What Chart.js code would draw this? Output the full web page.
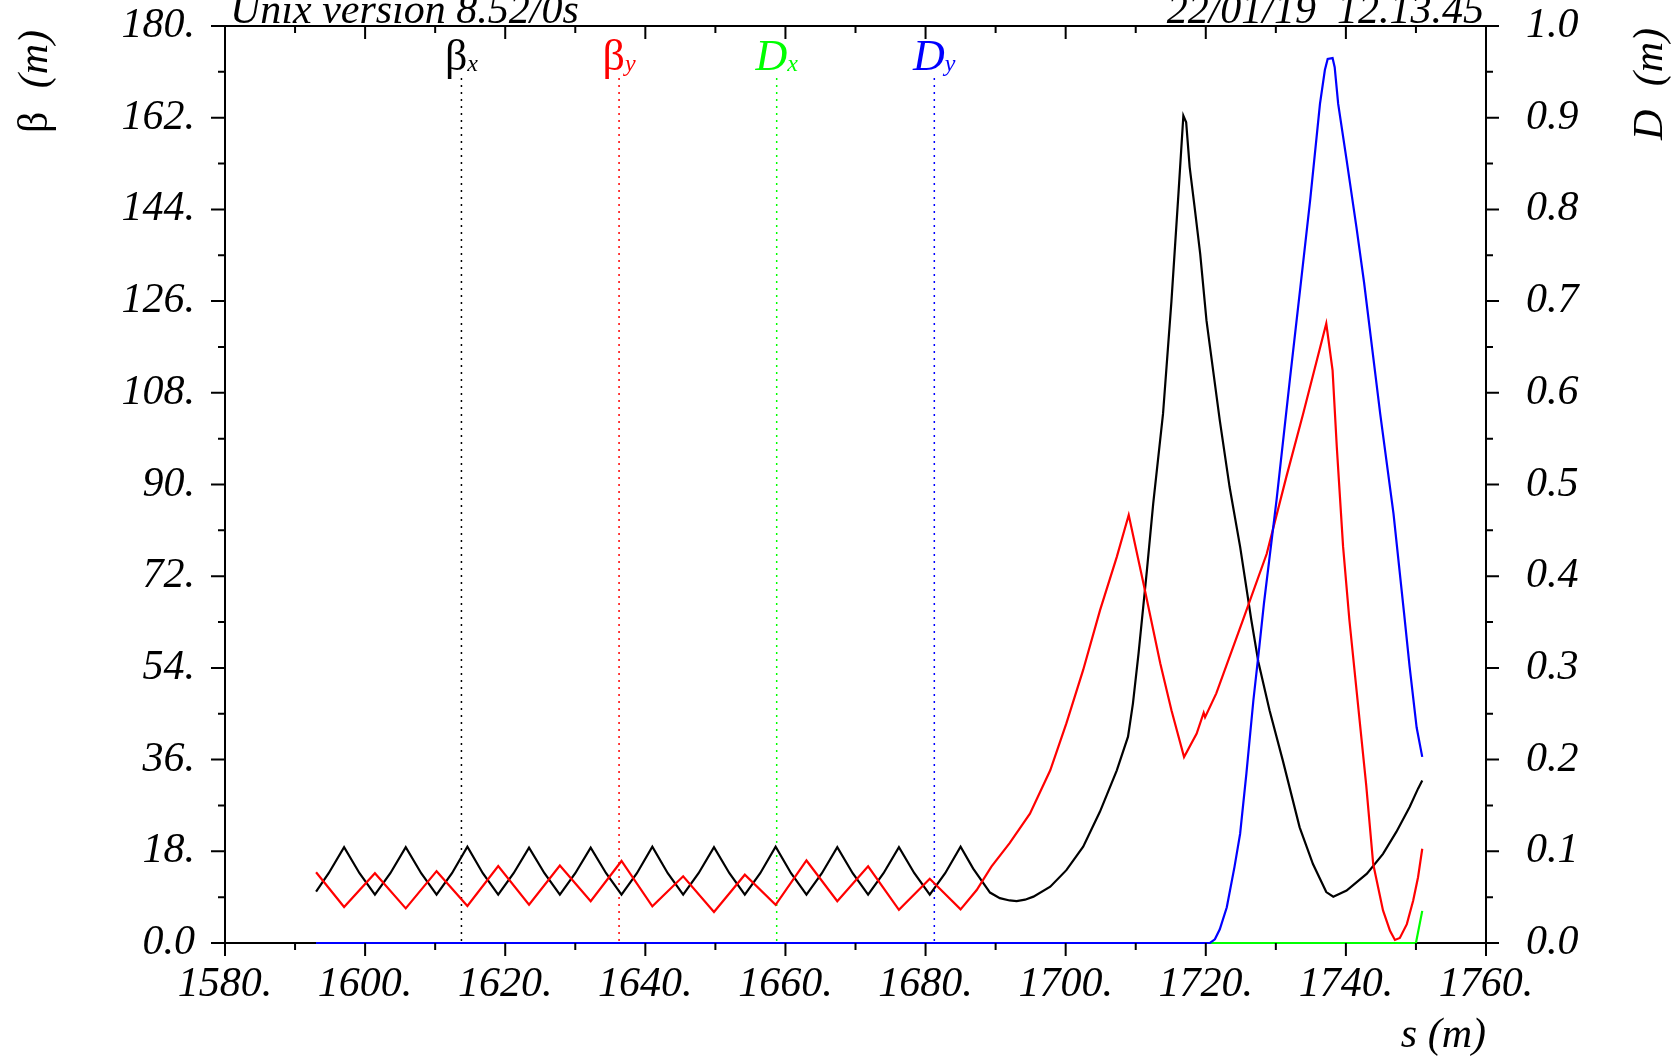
<!doctype html>
<html lang="en">
<head>
  <meta charset="utf-8" />
  <title>Twiss functions, 1580 - 1760 m</title>
  <script src="https://cdn.jsdelivr.net/npm/chart.js@4.4.0/dist/chart.umd.min.js"></script>
  <style>
    body { margin: 0; background: #fff; }
    #twiss { display: block; }
  </style>
</head>
<body>
  <canvas id="twiss" width="1675" height="1057"></canvas>

  <script>
    // beta_x (black)
    const sBx = [1593.0, 1594.8, 1597.0, 1599.2, 1601.4, 1603.6, 1605.8, 1608.0, 1610.2, 1612.4,
      1614.6, 1616.8, 1619.0, 1621.2, 1623.4, 1625.6, 1627.8, 1630.0, 1632.2, 1634.4,
      1636.6, 1638.8, 1641.0, 1643.2, 1645.4, 1647.6, 1649.8, 1652.0, 1654.2, 1656.4,
      1658.6, 1660.8, 1663.0, 1665.2, 1667.4, 1669.6, 1671.8, 1674.0, 1676.2, 1678.4,
      1680.6, 1682.8, 1685.0, 1686.8, 1689.2, 1690.6, 1692.0, 1693.0, 1694.2, 1695.4,
      1697.8, 1700.1, 1702.5, 1704.9, 1707.3, 1708.9, 1709.6, 1710.4, 1711.6, 1712.5,
      1713.9, 1715.1, 1716.1, 1716.8, 1717.2, 1717.7, 1718.4, 1719.2, 1720.1, 1720.6,
      1722.0, 1723.4, 1724.9, 1726.5, 1727.5, 1729.1, 1731.0, 1733.4, 1735.3, 1737.2,
      1738.2, 1740.1, 1743.0, 1745.3, 1747.2, 1749.1, 1750.3, 1750.9];
    const betaX = [10.1, 13.7, 18.8, 13.7, 9.5, 13.7, 18.8, 13.7, 9.5, 13.7,
      18.9, 13.7, 9.5, 13.7, 18.7, 13.7, 9.5, 13.7, 18.7, 13.7,
      9.5, 13.7, 18.9, 13.7, 9.5, 13.7, 18.8, 13.7, 9.5, 13.7,
      18.9, 13.7, 9.5, 13.7, 18.8, 13.7, 9.5, 13.7, 18.8, 13.7,
      9.5, 13.7, 18.9, 14.6, 9.9, 8.8, 8.35, 8.24, 8.5, 9.1,
      11.05, 14.3, 18.9, 25.8, 33.9, 40.5, 47.0, 56.8, 73.2, 86.3,
      103.9, 126.0, 147.1, 162.4, 161.1, 152.3, 144.5, 135.3, 122.2, 117.0,
      102.6, 89.5, 77.8, 63.4, 55.2, 45.7, 35.8, 22.7, 15.5, 10.0,
      9.1, 10.3, 13.6, 17.5, 21.8, 26.7, 30.3, 31.9];

    // beta_y (red)
    const sBy = [1593.0, 1597.0, 1601.4, 1605.8, 1610.2, 1614.6, 1619.0, 1623.4, 1627.8, 1632.2,
      1636.6, 1641.0, 1645.4, 1649.8, 1654.2, 1658.6, 1663.0, 1667.4, 1671.8, 1676.2,
      1680.6, 1685.0, 1687.3, 1689.4, 1692.0, 1694.9, 1697.8, 1700.1, 1702.5, 1704.9,
      1707.3, 1709.0, 1711.1, 1713.5, 1715.1, 1716.9, 1718.7, 1719.7, 1719.9, 1721.5,
      1723.9, 1725.3, 1728.7, 1731.5, 1733.9, 1737.2, 1738.1, 1738.7, 1739.6, 1740.5,
      1742.9, 1743.9, 1745.3, 1746.3, 1747.0, 1747.7, 1748.7, 1749.6, 1750.3, 1750.9];
    const betaY = [13.9, 7.07, 13.7, 6.8, 14.1, 7.26, 15.1, 7.5, 15.2, 8.2,
      16.1, 7.2, 13.1, 6.1, 13.4, 7.5, 16.2, 8.2, 15.05, 6.5,
      12.6, 6.6, 10.4, 15.0, 19.6, 25.4, 33.9, 43.1, 53.6, 65.3,
      75.8, 84.0, 70.6, 54.9, 45.7, 36.5, 41.1, 45.2, 44.3, 49.0,
      58.1, 63.4, 76.4, 91.5, 103.9, 121.6, 112.4, 97.4, 77.8, 63.4,
      31.0, 15.5, 6.4, 2.4, 0.6, 1.0, 3.7, 8.3, 12.9, 18.5];

    // D_x (green)
    const sDx = [1593.0, 1750.0, 1750.9];
    const dispX = [0, 0, 0.035];

    // D_y (blue)
    const sDy = [1593.0, 1720.6, 1721.3, 1722.0, 1723.0, 1724.1, 1724.9, 1725.8, 1726.8, 1727.6,
      1728.3, 1730.1, 1732.0, 1733.5, 1734.9, 1736.3, 1737.0, 1737.4, 1738.1, 1738.4,
      1738.9, 1740.1, 1741.5, 1742.6, 1744.9, 1746.8, 1748.3, 1749.1, 1750.1, 1750.9];
    const dispY = [0, 0, 0.004, 0.015, 0.039, 0.083, 0.119, 0.185, 0.265, 0.32,
      0.37, 0.483, 0.614, 0.715, 0.81, 0.915, 0.952, 0.964, 0.965, 0.955,
      0.915, 0.854, 0.781, 0.72, 0.577, 0.468, 0.36, 0.301, 0.235, 0.203];

    const legendMain = ["β", "β", "D", "D"];
    const legendSub = ["x", "y", "x", "y"];
    const colors = ["#000000", "#ff0000", "#00ff00", "#0000ff"];

    const serif = "'Liberation Serif', 'DejaVu Serif', serif";
    const tickFont = { family: serif, size: 42, style: "italic" };

    const pts = (xs, ys) => xs.map((x, i) => ({ x: x, y: ys[i] }));

    // frame ticks, headers, axis titles and the MAD style legend
    const madDecor = {
      id: "madDecor",
      beforeDatasetsDraw(chart) {
        const { ctx, chartArea: a } = chart;
        ctx.save();
        ctx.lineWidth = 1.5;
        ctx.setLineDash([2, 5]);
        colors.forEach((c, i) => {
          const x = a.left + (2 * i + 3) / 16 * (a.right - a.left);
          ctx.strokeStyle = c;
          ctx.beginPath();
          ctx.moveTo(x, 78);
          ctx.lineTo(x, a.bottom);
          ctx.stroke();
        });
        ctx.restore();
      },
      afterDraw(chart) {
        const { ctx, chartArea: a, scales } = chart;
        ctx.save();
        ctx.strokeStyle = "#000";
        ctx.lineWidth = 2;

        // top frame line
        ctx.beginPath();
        ctx.moveTo(a.left - 1, a.top);
        ctx.lineTo(a.right + 1, a.top);
        ctx.stroke();

        ctx.beginPath();
        for (let v = 1580; v <= 1760; v += 10) {
          const px = scales.x.getPixelForValue(v);
          const big = (v - 1580) % 20 === 0;
          ctx.moveTo(px, a.bottom);
          ctx.lineTo(px, a.bottom + (big ? 13 : 7));
          ctx.moveTo(px, a.top);
          ctx.lineTo(px, a.top + (big ? 13 : 7));
        }
        for (let k = 0; k <= 20; k++) {
          const py = scales.y.getPixelForValue(k * 9);
          ctx.moveTo(a.left, py);
          ctx.lineTo(a.left - (k % 2 === 0 ? 14 : 7), py);
        }
        for (let k = 0; k <= 20; k++) {
          const py = scales.y2.getPixelForValue(k * 0.05);
          ctx.moveTo(a.right, py);
          ctx.lineTo(a.right + (k % 2 === 0 ? 13 : 7), py);
        }
        ctx.stroke();

        ctx.fillStyle = "#000";
        ctx.font = "italic 42px " + serif;
        ctx.textBaseline = "alphabetic";
        ctx.textAlign = "left";
        ctx.fillText("Unix version 8.52/0s", a.left + 5, 23);
        ctx.textAlign = "right";
        ctx.fillText("22/01/19  12.13.45", a.right - 2, 23);

        // left title: beta (m)
        ctx.save();
        ctx.translate(47, 133);
        ctx.rotate(-Math.PI / 2);
        ctx.textAlign = "left";
        ctx.font = "42px " + serif;
        ctx.fillText("β", 0, 0);
        ctx.textAlign = "right";
        ctx.font = "italic 42px " + serif;
        ctx.fillText("(m)", 103, 0);
        ctx.restore();

        // right title: D (m)
        ctx.save();
        ctx.translate(1662, 140);
        ctx.rotate(-Math.PI / 2);
        ctx.textAlign = "left";
        ctx.font = "italic 42px " + serif;
        ctx.fillText("D", 0, 0);
        ctx.textAlign = "right";
        ctx.fillText("(m)", 112, 0);
        ctx.restore();

        // legend labels centred on their dotted lines
        ctx.textAlign = "left";
        colors.forEach((c, i) => {
          const x = a.left + (2 * i + 3) / 16 * (a.right - a.left);
          const mainFont = (legendMain[i] === "β" ? "" : "italic ") + "44px " + serif;
          const subFont = "italic 24px " + serif;
          ctx.font = mainFont;
          const w1 = ctx.measureText(legendMain[i]).width;
          ctx.font = subFont;
          const w2 = ctx.measureText(legendSub[i]).width;
          const x0 = x - (w1 + w2) / 2;
          ctx.fillStyle = c;
          ctx.font = mainFont;
          ctx.fillText(legendMain[i], x0, 70);
          ctx.font = subFont;
          ctx.fillText(legendSub[i], x0 + w1, 71);
        });
        ctx.restore();
      }
    };

    // the vertical axes must not push the plot area down for their label padding
    const fixVertical = (width) => (s) => {
      s.width = width;
      s.paddingTop = 0;
      s.paddingBottom = 0;
    };

    new Chart(document.getElementById("twiss"), {
      type: "line",
      data: {
        datasets: [
          { label: "betx", data: pts(sBx, betaX), borderColor: colors[0], yAxisID: "y", order: 3 },
          { label: "bety", data: pts(sBy, betaY), borderColor: colors[1], yAxisID: "y", order: 2 },
          { label: "Dx", data: pts(sDx, dispX), borderColor: colors[2], yAxisID: "y2", order: 1 },
          { label: "Dy", data: pts(sDy, dispY), borderColor: colors[3], yAxisID: "y2", order: 0 },
        ],
      },
      options: {
        responsive: false,
        devicePixelRatio: 1,
        animation: false,
        layout: { padding: { top: 26, left: 0, right: 0, bottom: 0 } },
        elements: {
          line: { borderWidth: 2.2, tension: 0, fill: false },
          point: { radius: 0, hoverRadius: 0 },
        },
        datasets: { line: { clip: false } },
        plugins: { legend: { display: false }, tooltip: { enabled: false }, title: { display: false } },
        scales: {
          x: {
            type: "linear",
            position: "bottom",
            min: 1580,
            max: 1760,
            grid: { display: false },
            border: { display: true, color: "#000", width: 2 },
            ticks: {
              stepSize: 20,
              autoSkip: false,
              maxRotation: 0,
              padding: 9,
              color: "#000",
              font: tickFont,
              callback: (v) => v + ".",
            },
            title: {
              display: true,
              text: "s (m)",
              align: "end",
              color: "#000",
              font: { family: serif, size: 42, style: "italic", lineHeight: 1 },
              padding: { top: 0, bottom: 0 },
            },
            afterFit: (s) => { s.height = 114; },
          },
          y: {
            position: "left",
            min: 0,
            max: 180,
            grid: { display: false },
            border: { display: true, color: "#000", width: 2 },
            ticks: {
              stepSize: 18,
              padding: 22,
              color: "#000",
              font: tickFont,
              callback: (v) => (v === 0 ? "0.0" : v + "."),
            },
            afterFit: fixVertical(225),
          },
          y2: {
            position: "right",
            min: 0,
            max: 1,
            grid: { display: false },
            border: { display: true, color: "#000", width: 2 },
            ticks: {
              stepSize: 0.1,
              padding: 32,
              color: "#000",
              font: tickFont,
              callback: (v) => v.toFixed(1),
            },
            afterFit: fixVertical(189),
          },
        },
      },
      plugins: [madDecor],
    });
  </script>
</body>
</html>
